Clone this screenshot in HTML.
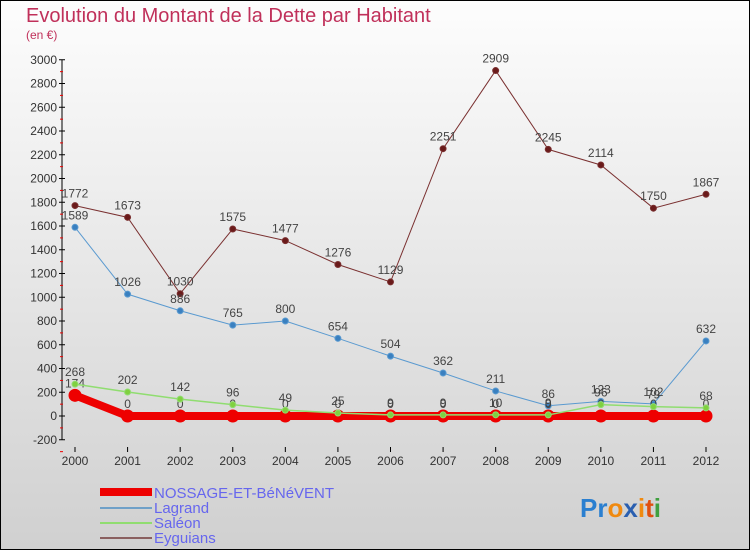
<!DOCTYPE html>
<html><head><meta charset="utf-8"><style>
html,body{margin:0;padding:0;}
body{width:750px;height:550px;overflow:hidden;font-family:"Liberation Sans",sans-serif;}
</style></head><body>
<svg id="chart" width="750" height="550" xmlns="http://www.w3.org/2000/svg">
<defs><linearGradient id="bg" x1="0" y1="0" x2="0" y2="1"><stop offset="0" stop-color="#fdfdfd"/><stop offset="1" stop-color="#d0d0d0"/></linearGradient></defs>
<rect x="0.5" y="0.5" width="749" height="549" fill="url(#bg)" stroke="#000"/>
<text x="26" y="22" font-size="20" fill="#c0305a">Evolution du Montant de la Dette par Habitant</text>
<text x="26" y="39" font-size="12" fill="#c0305a">(en €)</text>
<g id="axes"></g><g id="series"></g>
<g>
<rect x="100" y="488" width="52" height="8" fill="#ee0000"/>
<text x="154" y="498" font-size="15" fill="#6666ee">NOSSAGE-ET-BéNéVENT</text>
<rect x="100" y="507" width="52" height="2" fill="#6fa0c8"/>
<text x="154" y="513" font-size="15" fill="#6666ee">Lagrand</text>
<rect x="100" y="522" width="52" height="2" fill="#90dd70"/>
<text x="154" y="528" font-size="15" fill="#6666ee">Saléon</text>
<rect x="100" y="537" width="52" height="2" fill="#8a6060"/>
<text x="154" y="543" font-size="15" fill="#6666ee">Eyguians</text>
</g>
<text x="580" y="517" font-size="26" font-weight="bold"><tspan fill="#2a7fd0">Pr</tspan><tspan fill="#f08a10">o</tspan><tspan fill="#2a5fb0">x</tspan><tspan fill="#f08a10">i</tspan><tspan fill="#e05010">t</tspan><tspan fill="#40a040">i</tspan></text>
</svg>
<script>
const years=[2000,2001,2002,2003,2004,2005,2006,2007,2008,2009,2010,2011,2012];
const yTicks=[-200,0,200,400,600,800,1000,1200,1400,1600,1800,2000,2200,2400,2600,2800,3000];
const nossage=[174,0,0,0,0,0,0,0,0,0,0,0,0];
const lagrand=[1589,1026,886,765,800,654,504,362,211,86,123,102,632];
const saleon=[268,202,142,96,49,25,9,9,10,9,96,79,68];
const eyguians=[1772,1673,1030,1575,1477,1276,1129,2251,2909,2245,2114,1750,1867];
const NS='http://www.w3.org/2000/svg';
function X(i){return 75+i*(706-75)/12;}
function Y(v){return 416-v*0.11875;}
function mk(tag,attrs,parent,txt){const e=document.createElementNS(NS,tag);for(const k in attrs)e.setAttribute(k,attrs[k]);if(txt!==undefined)e.textContent=txt;parent.appendChild(e);return e;}
const ax=document.getElementById('axes');
let a=mk('line',{x1:62,y1:60,x2:62,y2:440,stroke:'#000'},ax);


yTicks.forEach(t=>{
  const y=Y(t);
  mk('line',{x1:59,y1:y,x2:65,y2:y,stroke:'#000'},ax);
  mk('line',{x1:60,y1:y+11.9,x2:63,y2:y+11.9,stroke:'#e00'},ax);
  const l=mk('text',{x:57,y:y+4,'font-size':12,fill:'#333','text-anchor':'end'},ax,t);
  
  
});
years.forEach((yr,i)=>{
  mk('line',{x1:X(i),y1:447,x2:X(i),y2:452,stroke:'#000'},ax);
  const l=mk('text',{x:X(i),y:465,'font-size':12,fill:'#333','text-anchor':'middle'},ax,yr);
  
  
});
const sg=document.getElementById('series');
function draw(name,data,color,w,r,dot,labels){
  const g=mk('g',{},sg);
  
  
  mk('polyline',{points:data.map((v,i)=>X(i)+','+Y(v)).join(' '),fill:'none',stroke:color,'stroke-width':w},g);
  data.forEach((v,i)=>{
    const c=mk('circle',{cx:X(i),cy:Y(v),r:r,fill:dot,stroke:color,'stroke-width':1},g);
    
    
    if(labels){const t=mk('text',{x:X(i),y:Y(v)-8,'font-size':12,fill:'#444','text-anchor':'middle'},g,v);
    
    }
  });
}
draw('eyguians',eyguians,'#7a3030',1,3,'#6a1a1a',true);
draw('lagrand',lagrand,'#5a9ad0',1,3,'#3a80c0',true);
draw('nossage',nossage,'#ee0000',8,6,'#ee0000',true);
draw('saleon',saleon,'#90dd70',1.5,3,'#80d040',true);
</script>
</body></html>
